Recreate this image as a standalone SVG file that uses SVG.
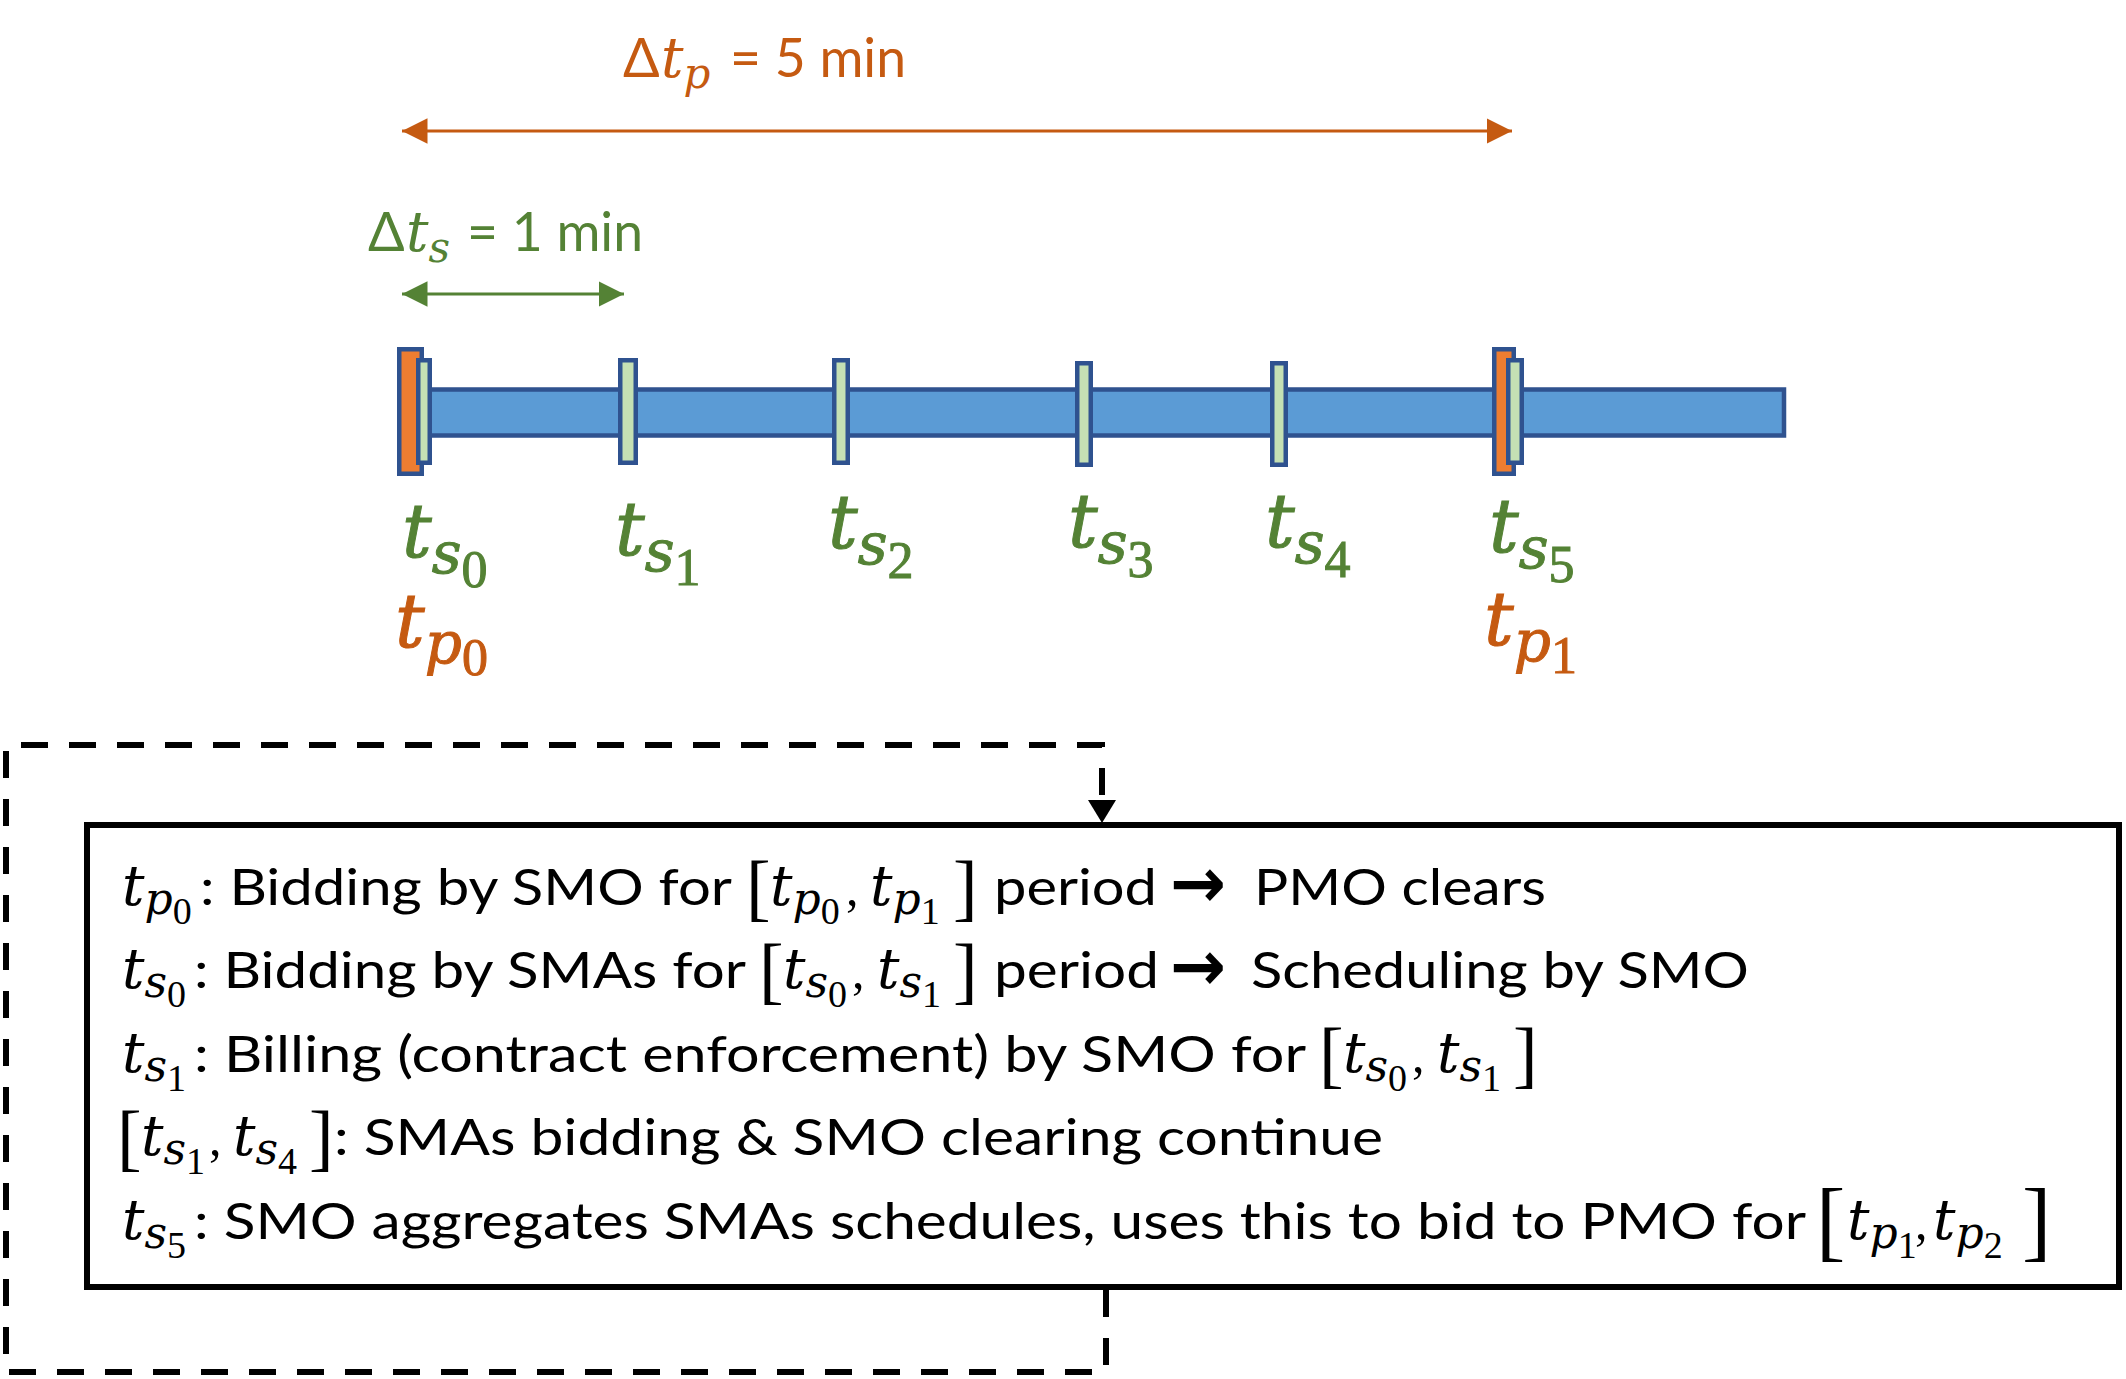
<svg xmlns="http://www.w3.org/2000/svg" width="2126" height="1379" viewBox="0 0 2126 1379">
<style>
.b{font-family:Lato,"Liberation Sans",sans-serif;}
.m{font-family:"DejaVu Serif",serif;font-style:italic;}
.d{font-family:"Liberation Serif",serif;font-style:normal;}
.br{font-family:"Liberation Serif",serif;}
.og{fill:#C55A11;}
.gr{fill:#548235;}
.k{fill:#000;}
.lbl{stroke-width:1;}
.lbl.og{stroke:#C55A11;}
.lbl.gr{stroke:#548235;}
.tick{fill:#C5E0B4;stroke:#2F528F;stroke-width:4.5;}
.ptick{fill:#ED7D31;stroke:#2F528F;stroke-width:4.5;}
.bar{fill:#5B9BD5;stroke:#2F528F;stroke-width:4.5;}
.dash{fill:none;stroke:#000;stroke-width:6;stroke-dasharray:27 21;}
.bt{font-size:50px;}
.bm{font-size:56px;}
.arr{font-family:"DejaVu Sans",sans-serif;font-weight:bold;font-size:70px;}
</style>
<defs>
<marker id="ao" viewBox="0 0 10 10" refX="10" refY="5" markerWidth="8.5" markerHeight="8.5" markerUnits="strokeWidth" orient="auto-start-reverse"><path d="M0,0 L10,5 L0,10 Z" fill="#C55A11"/></marker>
<marker id="ag" viewBox="0 0 10 10" refX="10" refY="5" markerWidth="8.5" markerHeight="8.5" markerUnits="strokeWidth" orient="auto-start-reverse"><path d="M0,0 L10,5 L0,10 Z" fill="#548235"/></marker>
</defs>

<g id="connectors">
<line x1="402" y1="131" x2="1512" y2="131" stroke="#C55A11" stroke-width="3" marker-start="url(#ao)" marker-end="url(#ao)"/>
<line x1="402" y1="294" x2="624" y2="294" stroke="#548235" stroke-width="3" marker-start="url(#ag)" marker-end="url(#ag)"/>
<path class="dash" d="M1106,1290 V1372 H6 V745 H1102 V802"/>
<polygon points="1088,800 1116,800 1102,823" fill="#000"/>
</g>

<g id="label-dtp">
<text class="b og" font-size="54" x="623" y="77">Δ</text>
<text class="m og" font-size="56" x="661" y="77">t<tspan font-size="42" dy="11">p</tspan></text>
<text class="b og" font-size="54" x="730" y="77" textLength="176" lengthAdjust="spacingAndGlyphs">= 5 min</text>
</g>
<g id="label-dts">
<text class="b gr" font-size="54" x="368" y="251">Δ</text>
<text class="m gr" font-size="56" x="406" y="251">t<tspan font-size="42" dy="11">s</tspan></text>
<text class="b gr" font-size="54" x="467" y="251" textLength="176" lengthAdjust="spacingAndGlyphs">= 1 min</text>
</g>

<g id="timeline">
<rect class="bar" x="429" y="389.5" width="1355" height="46"/>
<rect class="ptick" x="399.25" y="349.25" width="22.5" height="124.5"/>
<rect class="tick" x="418.25" y="360.25" width="11.5" height="102.5"/>
<rect class="tick" x="620.25" y="360.25" width="15.5" height="102.5"/>
<rect class="tick" x="834.25" y="360.25" width="13.5" height="102.5"/>
<rect class="tick" x="1077.25" y="363.25" width="13.5" height="101.5"/>
<rect class="tick" x="1272.25" y="363.25" width="13.5" height="101.5"/>
<rect class="ptick" x="1494.25" y="349.25" width="19.5" height="124.5"/>
<rect class="tick" x="1508.25" y="360.25" width="13.5" height="102.5"/>
</g>

<g id="ticklabels">
<text class="m gr lbl" font-size="74" x="402" y="557">t<tspan font-size="58" dy="16">s</tspan><tspan class="d" font-size="52" dy="14">0</tspan></text>
<text class="m gr lbl" font-size="74" x="615" y="555">t<tspan font-size="58" dy="16">s</tspan><tspan class="d" font-size="52" dy="14">1</tspan></text>
<text class="m gr lbl" font-size="74" x="828" y="548">t<tspan font-size="58" dy="16">s</tspan><tspan class="d" font-size="52" dy="14">2</tspan></text>
<text class="m gr lbl" font-size="74" x="1068" y="547">t<tspan font-size="58" dy="16">s</tspan><tspan class="d" font-size="52" dy="14">3</tspan></text>
<text class="m gr lbl" font-size="74" x="1265" y="547">t<tspan font-size="58" dy="16">s</tspan><tspan class="d" font-size="52" dy="14">4</tspan></text>
<text class="m gr lbl" font-size="74" x="1489" y="552">t<tspan font-size="58" dy="16">s</tspan><tspan class="d" font-size="52" dy="14">5</tspan></text>
<text class="m og lbl" font-size="74" x="395" y="647">t<tspan font-size="58" dy="16">p</tspan><tspan class="d" font-size="52" dy="12">0</tspan></text>
<text class="m og lbl" font-size="74" x="1484" y="645">t<tspan font-size="58" dy="16">p</tspan><tspan class="d" font-size="52" dy="12">1</tspan></text>
</g>

<g id="infobox">
<rect x="87" y="825" width="2032" height="462" fill="#fff" stroke="#000" stroke-width="6"/>
<!-- line 1 -->
<text class="m bm k" x="122" y="905">t<tspan font-size="44" dy="9">p</tspan><tspan class="d" font-size="38" dy="10">0</tspan></text>
<text class="b bt k" x="200" y="905" textLength="532" lengthAdjust="spacingAndGlyphs">: Bidding by SMO for</text>
<text class="br k" font-size="74" x="746" y="912">[</text>
<text class="m bm k" x="770" y="905">t<tspan font-size="44" dy="9">p</tspan><tspan class="d" font-size="38" dy="10">0</tspan></text>
<text class="br k" font-size="50" x="846" y="905">,</text>
<text class="m bm k" x="870" y="905">t<tspan font-size="44" dy="9">p</tspan><tspan class="d" font-size="38" dy="10">1</tspan></text>
<text class="br k" font-size="74" x="953" y="912">]</text>
<text class="b bt k" x="994" y="905" textLength="163" lengthAdjust="spacingAndGlyphs">period</text>
<text class="arr k" x="1170" y="907" textLength="56" lengthAdjust="spacingAndGlyphs">→</text>
<text class="b bt k" x="1254" y="905" textLength="292" lengthAdjust="spacingAndGlyphs">PMO clears</text>
<!-- line 2 -->
<text class="m bm k" x="122" y="988">t<tspan font-size="44" dy="9">s</tspan><tspan class="d" font-size="38" dy="10">0</tspan></text>
<text class="b bt k" x="194" y="988" textLength="552" lengthAdjust="spacingAndGlyphs">: Bidding by SMAs for</text>
<text class="br k" font-size="74" x="759" y="995">[</text>
<text class="m bm k" x="783" y="988">t<tspan font-size="44" dy="9">s</tspan><tspan class="d" font-size="38" dy="10">0</tspan></text>
<text class="br k" font-size="50" x="852" y="988">,</text>
<text class="m bm k" x="877" y="988">t<tspan font-size="44" dy="9">s</tspan><tspan class="d" font-size="38" dy="10">1</tspan></text>
<text class="br k" font-size="74" x="953" y="995">]</text>
<text class="b bt k" x="994" y="988" textLength="165" lengthAdjust="spacingAndGlyphs">period</text>
<text class="arr k" x="1170" y="990" textLength="56" lengthAdjust="spacingAndGlyphs">→</text>
<text class="b bt k" x="1251" y="988" textLength="498" lengthAdjust="spacingAndGlyphs">Scheduling by SMO</text>
<!-- line 3 -->
<text class="m bm k" x="122" y="1072">t<tspan font-size="44" dy="9">s</tspan><tspan class="d" font-size="38" dy="10">1</tspan></text>
<text class="b bt k" x="194" y="1072" textLength="1112" lengthAdjust="spacingAndGlyphs">: Billing (contract enforcement) by SMO for</text>
<text class="br k" font-size="74" x="1319" y="1079">[</text>
<text class="m bm k" x="1343" y="1072">t<tspan font-size="44" dy="9">s</tspan><tspan class="d" font-size="38" dy="10">0</tspan></text>
<text class="br k" font-size="50" x="1412" y="1072">,</text>
<text class="m bm k" x="1437" y="1072">t<tspan font-size="44" dy="9">s</tspan><tspan class="d" font-size="38" dy="10">1</tspan></text>
<text class="br k" font-size="74" x="1513" y="1079">]</text>
<!-- line 4 -->
<text class="br k" font-size="74" x="117" y="1162">[</text>
<text class="m bm k" x="141" y="1155">t<tspan font-size="44" dy="9">s</tspan><tspan class="d" font-size="38" dy="10">1</tspan></text>
<text class="br k" font-size="50" x="209" y="1155">,</text>
<text class="m bm k" x="233" y="1155">t<tspan font-size="44" dy="9">s</tspan><tspan class="d" font-size="38" dy="10">4</tspan></text>
<text class="br k" font-size="74" x="309" y="1162">]</text>
<text class="b bt k" x="334" y="1155" textLength="1049" lengthAdjust="spacingAndGlyphs">: SMAs bidding &amp; SMO clearing continue</text>
<!-- line 5 -->
<text class="m bm k" x="122" y="1239">t<tspan font-size="44" dy="9">s</tspan><tspan class="d" font-size="38" dy="10">5</tspan></text>
<text class="b bt k" x="194" y="1239" textLength="1612" lengthAdjust="spacingAndGlyphs">: SMO aggregates SMAs schedules, uses this to bid to PMO for</text>
<text class="br k" font-size="88" x="1816" y="1250">[</text>
<text class="m bm k" x="1847" y="1239">t<tspan font-size="44" dy="9">p</tspan><tspan class="d" font-size="38" dy="10">1</tspan></text>
<text class="br k" font-size="50" x="1915" y="1239">,</text>
<text class="m bm k" x="1933" y="1239">t<tspan font-size="44" dy="9">p</tspan><tspan class="d" font-size="38" dy="10">2</tspan></text>
<text class="br k" font-size="88" x="2022" y="1250">]</text>
</g>
</svg>
